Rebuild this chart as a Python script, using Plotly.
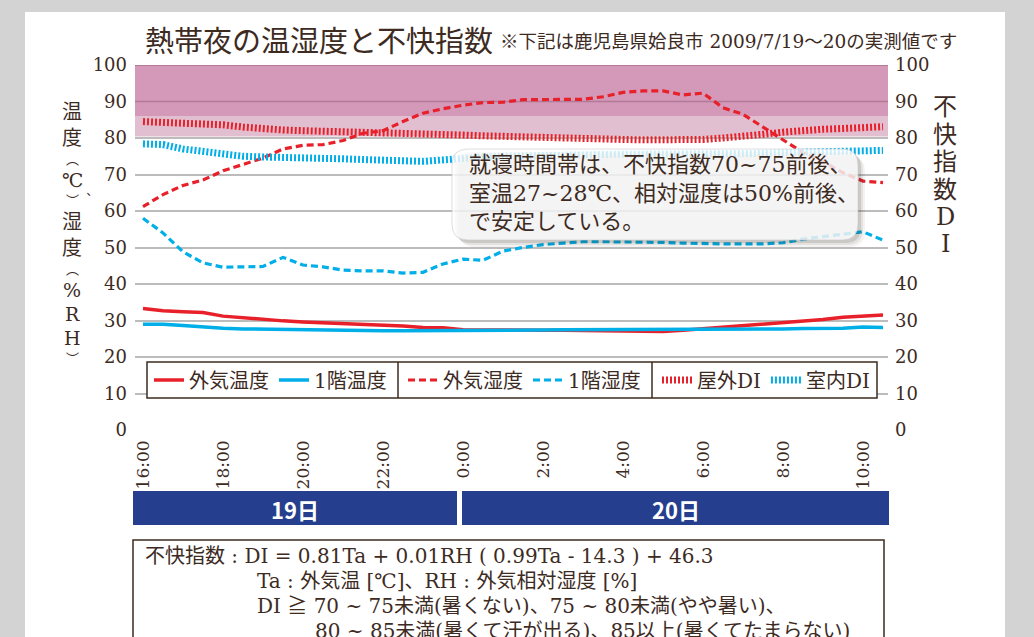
import plotly.graph_objects as go

# ---------------- data ----------------
time_labels = ["16:00","16:30","17:00","17:30","18:00","18:30","19:00","19:30","20:00","20:30",
               "21:00","21:30","22:00","22:30","23:00","23:30","0:00","0:30","1:00","1:30",
               "2:00","2:30","3:00","3:30","4:00","4:30","5:00","5:30","6:00","6:30",
               "7:00","7:30","8:00","8:30","9:00","9:30","10:00","10:30"]
outdoor_temp = [33.3,32.7,32.4,32.2,31.2,30.7,30.3,29.9,29.6,29.4,29.2,29.0,28.9,28.5,28.1,28.0,
                27.5,27.4,27.4,27.3,27.3,27.3,27.2,27.1,27.0,26.9,27.0,27.3,27.7,28.1,28.5,28.9,
                29.3,29.8,30.3,30.9,31.2,31.5]
indoor_temp = [29.0,29.0,28.6,28.2,27.9,27.7,27.6,27.5,27.4,27.3,27.3,27.2,27.2,27.2,27.2,27.2,
               27.3,27.3,27.4,27.4,27.4,27.5,27.5,27.6,27.6,27.6,27.5,27.5,27.6,27.6,27.7,27.7,
               27.7,27.8,27.8,27.9,28.2,28.1]
outdoor_rh = [61.2,64.5,67.0,68.5,71.0,72.8,74.5,77.0,78.0,78.2,79.3,81.3,82.0,84.5,86.8,88.0,
              89.0,89.7,89.8,90.5,90.6,90.6,90.6,91.3,92.5,92.9,92.9,91.8,92.3,88.3,86.5,83.0,
              79.5,76.0,73.5,70.5,68.2,67.8]
indoor_rh = [58.0,54.0,48.8,45.8,44.6,44.6,44.8,47.3,45.2,44.7,43.8,43.6,43.6,43.0,43.2,45.5,
             46.8,46.5,49.0,50.0,50.8,51.2,51.6,51.6,51.6,51.6,51.4,51.2,51.0,51.0,51.0,51.0,
             51.3,52.3,53.0,53.7,54.3,52.0]
outdoor_di = [84.5,84.3,84.2,84.1,83.6,83.0,82.5,82.2,82.0,81.9,81.8,81.6,81.4,81.2,81.1,81.0,
              80.8,80.6,80.4,80.2,80.1,80.0,79.8,79.7,79.6,79.5,79.5,79.5,79.6,80.0,80.3,81.0,
              81.6,82.1,82.4,82.6,82.8,83.1]
indoor_di = [78.4,78.2,77.0,76.2,75.5,75.0,74.8,74.7,74.9,74.6,74.3,74.1,74.0,73.9,73.6,74.0,
             74.5,74.8,75.0,75.2,75.3,75.4,75.4,75.5,75.5,75.5,75.5,75.5,75.5,75.6,75.7,75.8,
             76.0,76.2,76.4,76.6,76.8,76.6]
tick_labels = ["16:00","18:00","20:00","22:00","0:00","2:00","4:00","6:00","8:00","10:00"]
y_ticks = [0,10,20,30,40,50,60,70,80,90,100]
day_labels = ["19日","20日"]
series_names = ["外気温度","1階温度","外気湿度","1階湿度","屋外DI","室内DI"]


def hours_since_16(lbl):
    h, m = lbl.split(":")
    return (int(h) - 16) % 24 + int(m) / 60


x = [hours_since_16(t) for t in time_labels]

# ---------------- geometry helpers ----------------
W, H = 1034, 637
L, R, T, B = 135, 888, 65, 430


def xp(px):
    return (px - L) / (R - L)


def yp(py):
    return (B - py) / (B - T)


BROWN = "#3d2b1f"
RED = "#e8202a"
CYAN = "#00aee8"
FONT = "DejaVu Serif, Noto Sans CJK JP"

fig = go.Figure()

fig.add_trace(go.Scatter(x=x, y=outdoor_temp, name=series_names[0], mode="lines",
                         line=dict(color=RED, width=3.5), legend="legend"))
fig.add_trace(go.Scatter(x=x, y=indoor_temp, name=series_names[1], mode="lines",
                         line=dict(color=CYAN, width=3.5), legend="legend"))
fig.add_trace(go.Scatter(x=x, y=outdoor_rh, name=series_names[2], mode="lines",
                         line=dict(color=RED, width=3.2, dash="7px,4px"), legend="legend2"))
fig.add_trace(go.Scatter(x=x, y=indoor_rh, name=series_names[3], mode="lines",
                         line=dict(color=CYAN, width=3.2, dash="7px,4px"), legend="legend2"))
fig.add_trace(go.Scatter(x=x, y=outdoor_di, name=series_names[4], mode="lines",
                         line=dict(color=RED, width=7, dash="2px,2px"), legend="legend3"))
fig.add_trace(go.Scatter(x=x, y=indoor_di, name=series_names[5], mode="lines",
                         line=dict(color=CYAN, width=7, dash="2px,2px"), legend="legend3"))

# secondary axis carrier (invisible)
fig.add_trace(go.Scatter(x=[x[0]], y=[0], yaxis="y2", mode="markers",
                         marker=dict(opacity=0), showlegend=False, hoverinfo="skip"))

shapes = []
# white page panel
shapes.append(dict(type="rect", xref="paper", yref="paper", x0=xp(25), x1=xp(1005),
                   y0=yp(660), y1=yp(12), fillcolor="white", line=dict(width=0), layer="below"))
# discomfort bands
xr0, xr1 = -0.2, 18.625
shapes.append(dict(type="rect", xref="x", yref="y", x0=xr0, x1=xr1, y0=86, y1=100,
                   fillcolor="#d498b9", line=dict(width=0), layer="between"))
shapes.append(dict(type="rect", xref="x", yref="y", x0=xr0, x1=xr1, y0=80.4, y1=86,
                   fillcolor="#e2bfd0", line=dict(width=0), layer="between"))
for yv, col in [(90, "#b07a98"), (100, "#a8708f")]:
    shapes.append(dict(type="line", xref="x", yref="y", x0=xr0, x1=xr1, y0=yv, y1=yv,
                       line=dict(color=col, width=1.5), layer="between"))
shapes.append(dict(type="line", xref="x", yref="y", x0=xr0, x1=xr1, y0=0, y1=0,
                   line=dict(color="white", width=3), layer="between"))

# legend frame
shapes.append(dict(type="rect", xref="paper", yref="paper", x0=xp(147), x1=xp(877),
                   y0=yp(398), y1=yp(362), fillcolor="white",
                   line=dict(color=BROWN, width=1.5), layer="above"))
for dx in (398, 652):
    shapes.append(dict(type="line", xref="paper", yref="paper", x0=xp(dx), x1=xp(dx),
                       y0=yp(398), y1=yp(362), line=dict(color=BROWN, width=1.5), layer="above"))


def rounded(x0, y0, x1, y1, r):
    def P(a, b):
        return f"{xp(a):.5f},{yp(b):.5f}"
    return (f"M {P(x0 + r, y0)} L {P(x1 - r, y0)} Q {P(x1, y0)} {P(x1, y0 + r)} "
            f"L {P(x1, y1 - r)} Q {P(x1, y1)} {P(x1 - r, y1)} L {P(x0 + r, y1)} "
            f"Q {P(x0, y1)} {P(x0, y1 - r)} L {P(x0, y0 + r)} Q {P(x0, y0)} {P(x0 + r, y0)} Z")


for off, alpha in [(7, 0.06), (5, 0.09), (3, 0.14)]:
    shapes.append(dict(type="path", xref="paper", yref="paper",
                       path=rounded(452 + off, 149 + off, 858 + off, 240 + off, 16),
                       fillcolor=f"rgba(60,50,40,{alpha})", line=dict(width=0), layer="above"))
shapes.append(dict(type="path", xref="paper", yref="paper",
                   path=rounded(452, 149, 858, 240, 16),
                   fillcolor="rgba(255,255,255,0.80)", line=dict(color="rgba(200,200,200,0.6)", width=1),
                   layer="above"))

# day bars
NAVY = "#253f8e"
day_spans = [(133, 457), (462, 889)]
for (a, b) in day_spans:
    shapes.append(dict(type="rect", xref="paper", yref="paper", x0=xp(a), x1=xp(b),
                       y0=yp(525), y1=yp(491), fillcolor=NAVY, line=dict(width=0), layer="above"))

# formula box
shapes.append(dict(type="rect", xref="paper", yref="paper", x0=xp(133), x1=xp(884),
                   y0=yp(660), y1=yp(540), fillcolor="white",
                   line=dict(color=BROWN, width=1.5), layer="above"))

annotations = []


def ann(text, px, py, size, xanchor="left", color=BROWN, family=FONT, yanchor="middle", align="left"):
    annotations.append(dict(text=text, x=xp(px), y=yp(py), xref="paper", yref="paper",
                            xanchor=xanchor, yanchor=yanchor, showarrow=False, align=align,
                            font=dict(size=size, color=color, family=family)))


# title
ann("熱帯夜の温湿度と不快指数", 143, 42, 29)
ann("※下記は鹿児島県姶良市 2009/7/19～20の実測値です", 498, 42, 18.5)

# vertical axis titles (tategaki)
left_chars = [("温", 112, 0, 20), ("度", 138, 0, 20), ("︵", 159.5, 0, 13), ("℃", 180, 0, 19),
              ("︶", 200.5, 0, 13), ("︑", 199, 13, 12), ("湿", 222, 0, 20), ("度", 248, 0, 20),
              ("︵", 269.5, 0, 13), ("%", 290, 0, 19), ("R", 314, 0, 19), ("H", 338, 0, 19),
              ("︶", 358.5, 0, 13)]
for ch, py, dx, sz in left_chars:
    ann(ch, 72 + dx, py, sz, xanchor="center")
right_chars = [("不", 107), ("快", 135), ("指", 162), ("数", 190), ("D", 217), ("I", 244)]
for ch, py in right_chars:
    ann(ch, 945, py, 24, xanchor="center")

# comment box text
ann("就寝時間帯は、不快指数70~75前後、<br>室温27~28℃、相対湿度は50%前後、<br>で安定している。",
    467, 193, 22)

# day labels
for (a, b), lbl in zip(day_spans, day_labels):
    ann(f"<b>{lbl}</b>", (a + b) / 2, 509, 22, xanchor="center", color="white",
        family="Noto Sans CJK JP", align="center")

# formula text
ann("不快指数 : DI = 0.81Ta + 0.01RH ( 0.99Ta - 14.3 ) + 46.3", 143, 556, 20)
ann("Ta : 外気温 [℃]、RH : 外気相対湿度 [%]", 255, 581, 20)
ann("DI ≧ 70 ~ 75未満(暑くない)、75 ~ 80未満(やや暑い)、", 255, 606, 20)
ann("80 ~ 85未満(暑くて汗が出る)、85以上(暑くてたまらない)", 313, 631, 20)

legend_common = dict(orientation="h", xanchor="left", yanchor="middle", bgcolor="rgba(0,0,0,0)",
                     borderwidth=0, font=dict(size=20, color=BROWN, family=FONT),
                     xref="paper", yref="paper", itemclick=False, itemdoubleclick=False)

fig.update_layout(
    width=W, height=H, autosize=False,
    margin=dict(l=L, r=W - R, t=T, b=H - B, pad=0),
    paper_bgcolor="#d3d3d3", plot_bgcolor="white",
    font=dict(family=FONT, color=BROWN),
    showlegend=True,
    legend=dict(x=xp(149), y=yp(380), **legend_common),
    legend2=dict(x=xp(403), y=yp(380), **legend_common),
    legend3=dict(x=xp(657), y=yp(380), **legend_common),
    xaxis=dict(range=[xr0, xr1], tickvals=[hours_since_16(t) for t in tick_labels],
               ticktext=tick_labels, tickangle=-90, showgrid=False, zeroline=False,
               showline=False, ticks="", ticklabelstandoff=6,
               tickfont=dict(family="DejaVu Serif", size=17, color=BROWN)),
    yaxis=dict(range=[0, 100], tickvals=y_ticks, showgrid=True, gridcolor="#bcbcbc",
               gridwidth=1.5, zeroline=False, showline=False, ticks="", ticklabelstandoff=7,
               tickfont=dict(family="DejaVu Serif", size=18, color=BROWN)),
    yaxis2=dict(range=[0, 100], tickvals=y_ticks, overlaying="y", side="right", showgrid=False,
                zeroline=False, showline=False, ticks="", ticklabelstandoff=6,
                tickfont=dict(family="DejaVu Serif", size=18, color=BROWN)),
    shapes=shapes,
    annotations=annotations,
)

fig.write_html("out.html", config={"displayModeBar": False},
               post_script="document.body.style.margin='0';document.body.style.overflow='hidden';")
